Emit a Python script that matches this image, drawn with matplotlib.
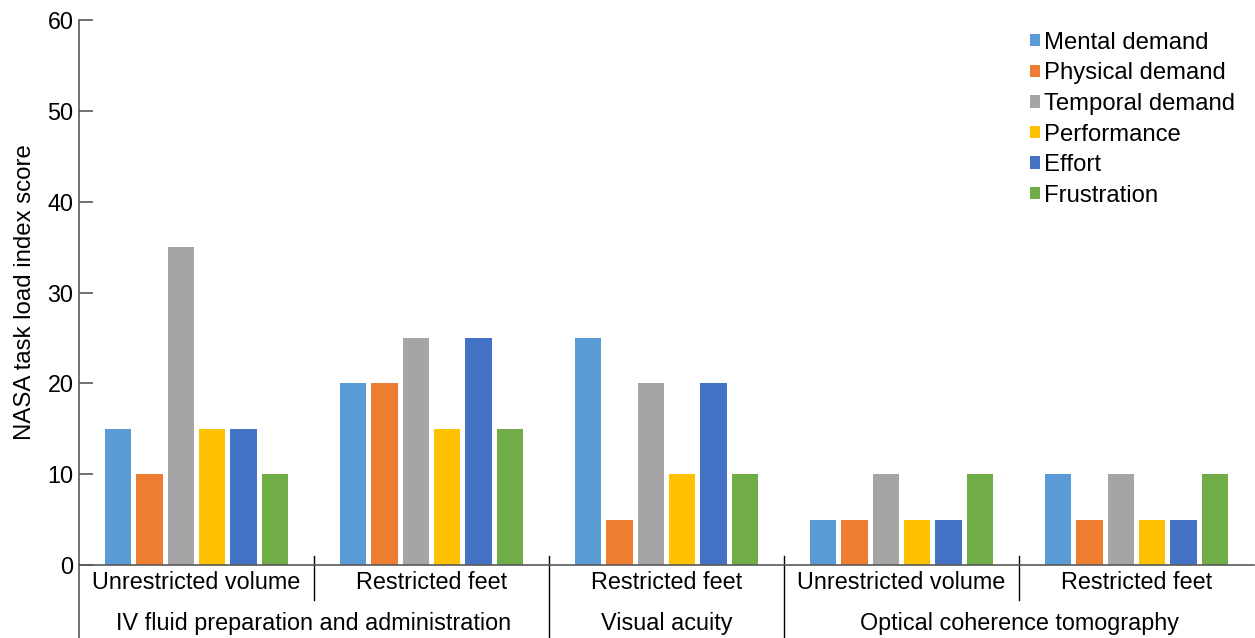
import matplotlib.pyplot as plt
import numpy as np

plt.rcParams['font.family'] = ['Liberation Sans', 'DejaVu Sans']

conditions = ['Unrestricted volume', 'Restricted feet', 'Restricted feet',
              'Unrestricted volume', 'Restricted feet']
tasks = ['IV fluid preparation and administration', 'Visual acuity',
         'Optical coherence tomography']

series = ['Mental demand', 'Physical demand', 'Temporal demand',
          'Performance', 'Effort', 'Frustration']
mental = [15, 20, 25, 5, 10]
physical = [10, 20, 5, 5, 5]
temporal = [35, 25, 20, 10, 10]
performance = [15, 15, 10, 5, 5]
effort = [15, 25, 20, 5, 5]
frustration = [10, 15, 10, 10, 10]
values = [mental, physical, temporal, performance, effort, frustration]

colors = ['#5B9BD5', '#ED7D31', '#A5A5A5', '#FFC000', '#4472C4', '#70AD47']

fig = plt.figure(figsize=(12.55, 6.38), dpi=100)
ax = fig.add_axes([79 / 1255, 1 - 565 / 638, 1175 / 1255, 545 / 638])

x = np.arange(len(conditions)) + 0.5
pitch = 0.1333
width = 0.111
for i, (name, vals) in enumerate(zip(series, values)):
    ax.bar(x + (i - 2.5) * pitch, vals, width, color=colors[i], label=name)

fs = 16.8
ax.set_xlim(0, 5)
ax.set_ylim(0, 60)
ax.set_yticks(range(0, 61, 10))
ax.set_xticks([])
ax.tick_params(axis='y', direction='in', length=10, width=1.2, color='#595959',
               labelsize=fs, pad=4)
for s in ['top', 'right']:
    ax.spines[s].set_visible(False)
for s in ['left', 'bottom']:
    ax.spines[s].set_color('#595959')
    ax.spines[s].set_linewidth(1.2)
ax.set_ylabel('NASA task load index score', fontsize=17.3, labelpad=8)

trans = ax.get_xaxis_transform()
# extend the left spine down to the bottom edge
ax.plot([0, 0], [0, -0.135], transform=trans, color='#595959', lw=1.2, clip_on=False)
# short separators between conditions in one task
for xs in [1, 4]:
    ax.plot([xs, xs], [0.0165, -0.064], transform=trans, color='black', lw=1, clip_on=False)
# long separators between tasks
for xs in [2, 3]:
    ax.plot([xs, xs], [0.0165, -0.135], transform=trans, color='black', lw=1, clip_on=False)

for xc, lab in zip(x, conditions):
    ax.text(xc, -0.033, lab, transform=trans, ha='center', va='center', fontsize=fs)
task_x = [1.0, 2.5, 4.0]
for xc, lab in zip(task_x, tasks):
    ax.text(xc, -0.108, lab, transform=trans, ha='center', va='center', fontsize=fs)

ax.legend(loc='upper right', bbox_to_anchor=(0.992, 0.996), frameon=False, fontsize=17.2,
          handlelength=0.42, handleheight=0.42, handletextpad=0.15, labelspacing=0.36,
          borderaxespad=0.0)

fig.savefig('out.png', dpi=100)
